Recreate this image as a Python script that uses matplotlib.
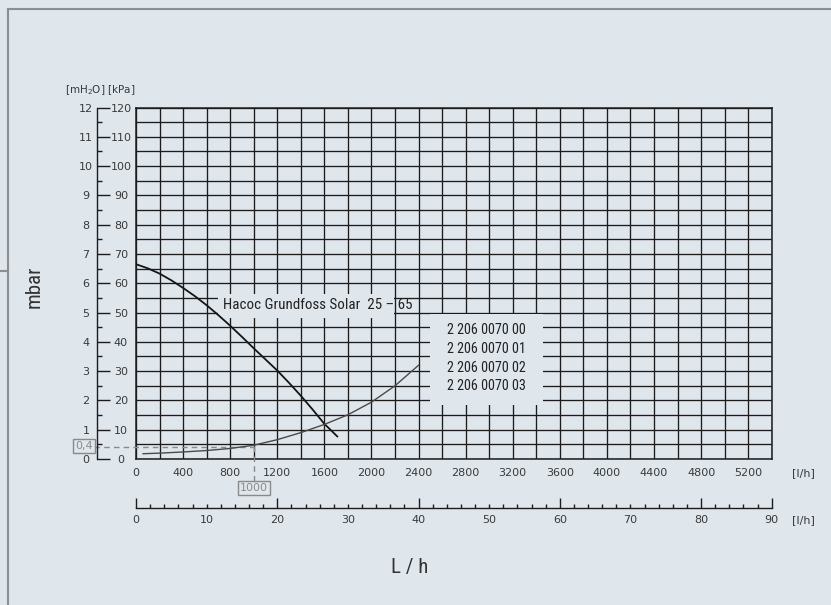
import matplotlib.pyplot as plt
import numpy as np
from matplotlib import font_manager as fm
from matplotlib.lines import Line2D
from matplotlib.patches import Rectangle

# Данные кривых (расход л/ч -> давление кПа)
pump_flow = [0, 100, 200, 300, 400, 500, 600, 700, 800, 900, 1000, 1100, 1200,
             1300, 1400, 1500, 1600, 1710]
pump_kpa = [66.5, 65.1, 63.3, 61.0, 58.4, 55.6, 52.5, 49.1, 45.5, 41.7, 37.8,
            34.0, 30.2, 26.0, 21.6, 16.9, 12.0, 7.7]

sys_flow = [60, 200, 400, 600, 800, 1000, 1200, 1400, 1600, 1800, 2000, 2200, 2400]
sys_kpa = [1.8, 2.0, 2.4, 2.9, 3.6, 4.7, 6.6, 9.0, 11.8, 15.1, 19.4, 25.0, 32.0]

# Подписи осей
x_ticks = list(range(0, 5201, 400))
x_labels = [str(v) for v in x_ticks]
kpa_ticks = list(range(0, 121, 10))
kpa_labels = [str(v) for v in kpa_ticks]
mh2o_labels = [str(v // 10) for v in kpa_ticks]

lmin_major = [0, 20, 40, 60, 80, 90]
lmin_minor = [v for v in range(0, 91, 2) if v not in lmin_major]

pump_name = "Hacoc Grundfoss Solar  25 – 65"
codes = ["2 206 0070 00", "2 206 0070 01", "2 206 0070 02", "2 206 0070 03"]
codes_kpa = [44.2, 37.7, 31.2, 24.8]

bg = '#dfe6ec'
ink = '#1c1c1c'
lab = '#3a3a3a'

# Ищем узкий шрифт, если он установлен
names = {f.name for f in fm.fontManager.ttflist}
narrow_font = None
for n in ['Roboto Condensed', 'Liberation Sans Narrow', 'Open Sans Condensed',
          'DejaVu Sans Condensed', 'Noto Sans Condensed']:
    if n in names:
        narrow_font = n
        break
stretch = 'normal'
if narrow_font is None:
    cond = [f.name for f in fm.fontManager.ttflist
            if f.stretch in ('condensed', 'semi-condensed', 'extra-condensed', 600, 700, 750)
            or (isinstance(f.stretch, int) and f.stretch < 100)]
    if cond:
        narrow_font = cond[0]
        stretch = 'condensed'
if narrow_font is None:
    narrow_font = 'Liberation Sans'
    scale = 0.85
else:
    scale = 1.0
narrow = [narrow_font, 'DejaVu Sans']

W, H = 831, 605
fig = plt.figure(figsize=(W / 100, H / 100), dpi=100)
fig.patch.set_facecolor(bg)

def box(x0, y0, x1, y1):
    # пиксели -> доли фигуры
    return [x0 / W, 1 - y1 / H, (x1 - x0) / W, (y1 - y0) / H]

# Основная сетка
ax = fig.add_axes(box(136, 107.5, 771.7, 459))
ax.set_facecolor('none')
ax.set_xlim(0, 5400)
ax.set_ylim(0, 120)
ax.set_xticks(x_ticks)
ax.set_xticklabels(x_labels)
ax.set_xticks(np.arange(0, 5401, 200), minor=True)
ax.set_yticks(kpa_ticks)
ax.set_yticks(np.arange(0, 121, 5), minor=True)
ax.grid(True, which='both', color=ink, lw=0.95)
ax.tick_params(which='both', length=0, labelleft=False)
ax.tick_params(axis='x', pad=6.5, labelsize=8, labelcolor=lab)
for s in ax.spines.values():
    s.set_color(ink)
    s.set_linewidth(1.1)

ax.plot(pump_flow, pump_kpa, color='#151515', lw=1.3, zorder=4)
ax.plot(sys_flow, sys_kpa, color='#4a4a4a', lw=1.0, zorder=4)

# Подписи насоса и кодов (фон закрывает сетку)
ax.add_patch(Rectangle((700, 48.2), 1490, 8.3, facecolor=bg, edgecolor='none', zorder=2.5))
ax.text(740, 52.5, pump_name, ha='left', va='center', fontsize=10.8 * scale,
        family=narrow, fontstretch=stretch, color='#222222', zorder=3)
ax.add_patch(Rectangle((2500, 18.3), 960, 31.3, facecolor=bg, edgecolor='none', zorder=2.5))
for c, y in zip(codes, codes_kpa):
    ax.text(2975, y, c, ha='center', va='center', fontsize=10.2 * scale,
            family=narrow, fontstretch=stretch, color='#222222', zorder=3)

# Рабочая точка 1000 л/ч, 0,4 м вод. ст.
gray = '#8a8a8a'
ax.axhline(4, xmin=-0.066, xmax=1000 / 5400, color=gray, lw=1, ls=(0, (4, 3)), clip_on=False, zorder=3)
ax.axvline(1000, ymin=-0.062, ymax=4.7 / 120, color=gray, lw=1, ls=(0, (4, 3)), clip_on=False, zorder=3)
ax.text(-0.082, 4.5, '0,4', transform=ax.get_yaxis_transform(), ha='center', va='center',
        fontsize=8, color=gray, bbox=dict(boxstyle='square,pad=0.2', fc=bg, ec=gray, lw=1))
ax.text(1000, -0.083, '1000', transform=ax.get_xaxis_transform(), ha='center', va='center',
        fontsize=8, color=gray, bbox=dict(boxstyle='square,pad=0.2', fc=bg, ec=gray, lw=1))
ax.text(1.05, -0.041, '[l/h]', transform=ax.transAxes, ha='center', va='center',
        fontsize=8, color=lab)

# Левая шкала: м вод. ст. и кПа
sc = fig.add_axes(box(97, 107.5, 121, 459))
sc.set_facecolor('none')
sc.set_ylim(0, 120)
sc.set_xticks([])
sc.set_yticks(kpa_ticks)
sc.set_yticklabels(mh2o_labels)
sc.set_yticks(np.arange(5, 121, 10), minor=True)
for k in ['top', 'right', 'bottom']:
    sc.spines[k].set_visible(False)
sc.spines['left'].set_color(ink)
sc.spines['left'].set_linewidth(1.0)
sc.tick_params(axis='y', which='major', direction='in', length=9, width=1, color=ink,
               pad=8, labelsize=8, labelcolor=lab)
sc.tick_params(axis='y', which='minor', direction='in', length=3.6, width=1, color=ink)
for t in sc.get_yticklabels():
    t.set_horizontalalignment('center')

sk = sc.twinx()
sk.set_ylim(0, 120)
sk.set_yticks(kpa_ticks)
sk.set_yticklabels(kpa_labels)
for s in sk.spines.values():
    s.set_visible(False)
sk.tick_params(axis='y', length=0, pad=0, labelsize=8, labelcolor=lab)
for t in sk.get_yticklabels():
    t.set_horizontalalignment('center')

fig.text(100 / W, 1 - 90 / H, '[mH$_2$O] [kPa]', ha='center', va='center', fontsize=7.5, color=lab)
fig.text(34 / W, 1 - 287 / H, 'mbar', rotation=90, ha='center', va='center',
         fontsize=15 * scale, family=narrow, fontstretch=stretch, color='#333333')

# Вторая шкала расхода
ax2 = fig.add_axes(box(136, 487.7, 771.7, 507.7))
ax2.set_facecolor('none')
ax2.set_xlim(0, 90)
ax2.set_yticks([])
ax2.set_xticks(lmin_major, labels=[str(v) for v in lmin_major])
ax2.set_xticks(lmin_minor, labels=[str(v) if v % 10 == 0 else '' for v in lmin_minor], minor=True)
for k in ['top', 'right', 'left']:
    ax2.spines[k].set_visible(False)
ax2.spines['bottom'].set_color(ink)
ax2.spines['bottom'].set_linewidth(1.0)
ax2.tick_params(axis='x', which='major', direction='in', length=7.2, width=1, color=ink,
                pad=5.5, labelsize=8, labelcolor=lab)
ax2.tick_params(axis='x', which='minor', direction='in', length=3, width=1, color=ink,
                pad=5.5, labelsize=8, labelcolor=lab)
ax2.text(1.05, -0.6, '[l/h]', transform=ax2.transAxes, ha='center', va='center',
         fontsize=8, color=lab)

fig.text(410 / W, 1 - 567 / H, 'L / h', ha='center', va='center', fontsize=15 * scale,
         family=narrow, fontstretch=stretch, color='#333333')

# Рамка
fcol = '#8e8e8e'
fig.add_artist(Line2D([7.5 / W, 1], [1 - 8.5 / H] * 2, color=fcol, lw=1.5))
fig.add_artist(Line2D([7.5 / W] * 2, [0, 1 - 8.5 / H], color=fcol, lw=1.5))
fig.add_artist(Line2D([0, 7.5 / W], [1 - 271 / H] * 2, color=fcol, lw=1.5))

fig.savefig('out.png', dpi=100, facecolor=bg)
